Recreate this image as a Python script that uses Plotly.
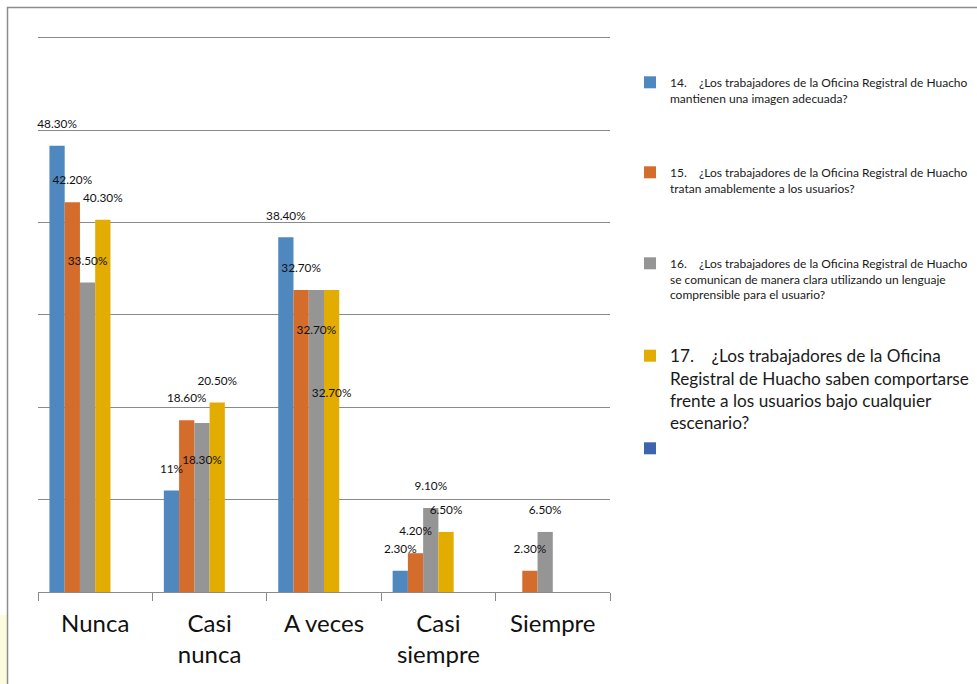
import plotly.graph_objects as go

# ---------------- data ----------------
categories = ["Nunca", "Casi nunca", "A veces", "Casi siempre", "Siempre"]
tick_labels = ["Nunca", "Casi<br>nunca", "A veces", "Casi<br>siempre", "Siempre"]

series_names = [
    "14.\u00a0\u00a0\u00a0\u00a0¿Los trabajadores de la Oficina Registral de Huacho<br>mantienen una imagen adecuada?",
    "15.\u00a0\u00a0\u00a0\u00a0¿Los trabajadores de la Oficina Registral de Huacho<br>tratan amablemente a los usuarios?",
    "16.\u00a0\u00a0\u00a0\u00a0¿Los trabajadores de la Oficina Registral de Huacho<br>se comunican de manera clara utilizando un lenguaje<br>comprensible para el usuario?",
    "17.\u00a0\u00a0\u00a0\u00a0¿Los trabajadores de la Oficina<br>Registral de Huacho saben comportarse<br>frente a los usuarios bajo cualquier<br>escenario?",
    "\u00a0",
    "\u00a0",
]

s14 = [48.3, 11.0, 38.4, 2.3, None]
s15 = [42.2, 18.6, 32.7, 4.2, 2.3]
s16 = [33.5, 18.3, 32.7, 9.1, 6.5]
s17 = [40.3, 20.5, 32.7, 6.5, None]
s_blank5 = [None, None, None, None, None]
s_blank6 = [None, None, None, None, None]

l14 = ["48.30%", "11%", "38.40%", "2.30%", ""]
l15 = ["42.20%", "18.60%", "32.70%", "4.20%", "2.30%"]
l16 = ["33.50%", "18.30%", "32.70%", "9.10%", "6.50%"]
l17 = ["40.30%", "20.50%", "32.70%", "6.50%", ""]
l_blank = ["", "", "", "", ""]

values = [s14, s15, s16, s17, s_blank5, s_blank6]
labels = [l14, l15, l16, l17, l_blank, l_blank]

# ---------------- styling ----------------
colors = ["#4F87BF", "#D46C2C", "#959595", "#E3AC00", "#3E64AE", "#FFFFFF"]
UP = "top center"
DN = "bottom center"
label_pos = [
    [UP, UP, UP, UP, UP],
    [UP, UP, UP, UP, UP],
    [UP, DN, DN, UP, UP],
    [UP, UP, DN, UP, UP],
    [UP, UP, UP, UP, UP],
    [UP, UP, UP, UP, UP],
]
label_gap = [  # invisible marker diameter controlling text distance from bar top
    [22, 22, 22, 22, 22],
    [22, 22, 22, 22, 22],
    [22, 50, 55, 22, 22],
    [22, 22, 156, 22, 22],
    [22, 22, 22, 22, 22],
    [22, 22, 22, 22, 22],
]
legend_ids = ["legend", "legend2", "legend3", "legend4", "legend5", None]

FONT = "Lato"
GRID = "#8A8A8A"

fig = go.Figure()

for i in range(6):
    fig.add_trace(go.Bar(
        x=categories, y=values[i], name=series_names[i],
        marker=dict(color=colors[i], line=dict(width=0)),
        legend=legend_ids[i] if legend_ids[i] else "legend",
        showlegend=legend_ids[i] is not None,
        hoverinfo="skip",
    ))

for i in range(6):
    fig.add_trace(go.Scatter(
        x=categories, y=values[i], mode="markers+text",
        text=labels[i], textposition=label_pos[i],
        textfont=dict(family=FONT, size=11.8, color="#111111"),
        marker=dict(size=label_gap[i], opacity=0, color="rgba(0,0,0,0)"),
        orientation="v", showlegend=False, hoverinfo="skip", cliponaxis=False,
    ))

W, H = 977, 684
L, R, T, B = 38, 367, 34, 92
pw, ph = W - L - R, H - T - B


def px_x(x):
    return (x - L) / pw


def px_y(y):
    return (H - B - y) / ph


leg_common = dict(xanchor="left", yanchor="top", valign="top", bgcolor="rgba(0,0,0,0)",
                  borderwidth=0, tracegroupgap=0, itemclick=False, itemdoubleclick=False)
small = dict(family=FONT, size=12, color="#1a1a1a")
big = dict(family=FONT, size=17.2, color="#1a1a1a")

fig.update_layout(
    width=W, height=H,
    margin=dict(l=L, r=R, t=T, b=B, pad=0, autoexpand=False),
    paper_bgcolor="white", plot_bgcolor="white",
    barmode="group", bargap=0.2, bargroupgap=0,
    scattermode="group", scattergap=0.2,
    showlegend=True,
    legend=dict(x=px_x(630), y=px_y(68), font=small, **leg_common),
    legend2=dict(x=px_x(630), y=px_y(158), font=small, **leg_common),
    legend3=dict(x=px_x(630), y=px_y(249), font=small, **leg_common),
    legend4=dict(x=px_x(630), y=px_y(338), font=big, **leg_common),
    legend5=dict(x=px_x(630), y=px_y(434), font=small, **leg_common),
    xaxis=dict(
        type="category", tickmode="array", tickvals=categories, ticktext=tick_labels,
        tickson="boundaries", ticks="outside", ticklen=8, tickwidth=1, tickcolor=GRID,
        showline=True, linecolor=GRID, linewidth=1, showgrid=False, zeroline=False,
        tickfont=dict(family=FONT, size=24, color="#111111"), ticklabelstandoff=10,
        fixedrange=True,
    ),
    yaxis=dict(
        range=[0, 60.4], tick0=0, dtick=10, showticklabels=False, ticks="",
        showgrid=True, gridcolor=GRID, gridwidth=1, zeroline=False, showline=False,
        fixedrange=True,
    ),
    shapes=[
        dict(type="rect", xref="paper", yref="paper",
             x0=px_x(0), x1=px_x(7), y0=px_y(690), y1=px_y(615),
             fillcolor="#FEFBD6", line=dict(width=0), opacity=0.8, layer="below"),
        dict(type="rect", xref="paper", yref="paper",
             x0=px_x(7.5), x1=px_x(990), y0=px_y(700), y1=px_y(7.5),
             fillcolor="rgba(0,0,0,0)", line=dict(color="#8C8C8C", width=1.5)),
    ],
)

fig.write_html("out.html")
